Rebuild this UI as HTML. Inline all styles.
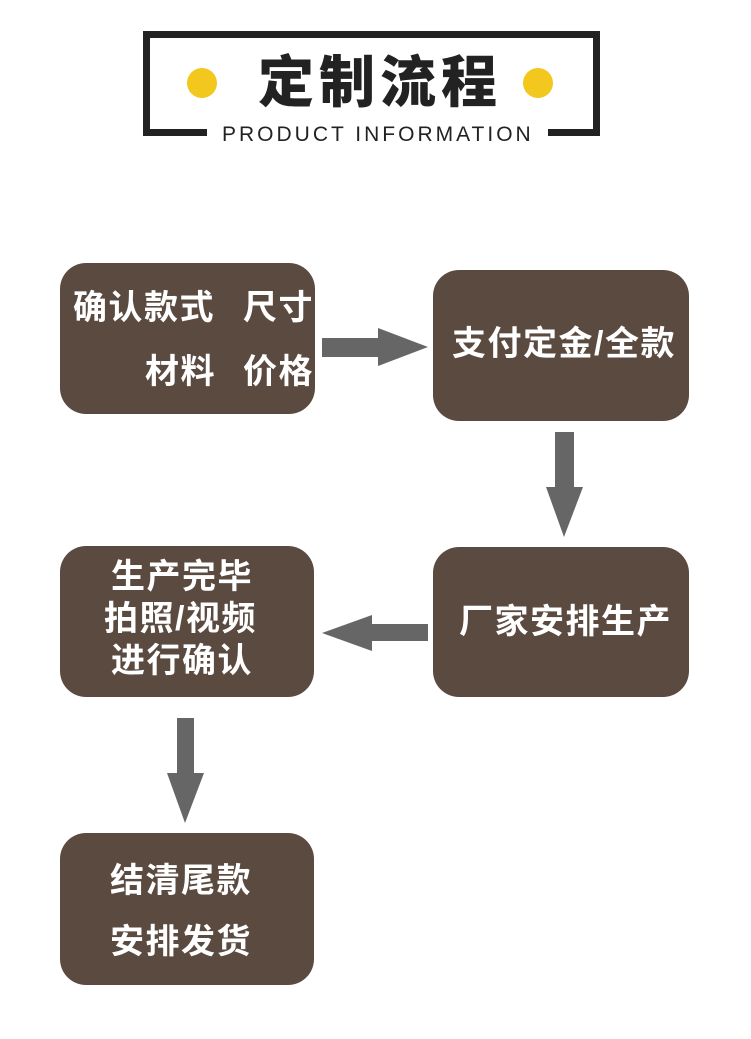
<!DOCTYPE html>
<html><head><meta charset="utf-8"><style>
body{margin:0;width:751px;height:1039px;background:#fff;position:relative;overflow:hidden;font-family:"Liberation Sans","Noto Sans CJK SC",sans-serif}
.b{position:absolute;background:#5b4a40;border-radius:26px}
.t{position:absolute;color:#fff;font-weight:bold;font-size:34px;letter-spacing:1.5px;white-space:nowrap;line-height:1;font-family:"Liberation Sans","Noto Sans CJK SC",sans-serif}
.l{position:absolute;background:#222}
</style></head><body>
<div class="l" style="left:143px;top:31px;width:457px;height:7px"></div>
<div class="l" style="left:143px;top:31px;width:7px;height:105px"></div>
<div class="l" style="left:593px;top:31px;width:7px;height:105px"></div>
<div class="l" style="left:143px;top:129px;width:64px;height:7px"></div>
<div class="l" style="left:548px;top:129px;width:52px;height:7px"></div>
<div style="position:absolute;left:187px;top:68px;width:30px;height:30px;border-radius:50%;background:#f2c81e"></div>
<div style="position:absolute;left:523px;top:68px;width:30px;height:30px;border-radius:50%;background:#f2c81e"></div>
<div class="t" style="left:258px;top:55px;font-size:56px;letter-spacing:5px;color:#222;font-weight:900">定制流程</div>
<div class="t" style="left:222px;top:124px;font-size:21px;color:#222;font-weight:normal;letter-spacing:3px">PRODUCT INFORMATION</div>

<div class="b" style="left:60px;top:263px;width:255px;height:151px"></div>
<div class="t" style="left:73px;top:291px">确认款式</div>
<div class="t" style="left:243px;top:291px">尺寸</div>
<div class="t" style="left:145px;top:355px">材料</div>
<div class="t" style="left:243px;top:355px">价格</div>

<div class="b" style="left:433px;top:270px;width:256px;height:151px"></div>
<div class="t" style="left:452px;top:327px">支付定金/全款</div>

<div class="b" style="left:433px;top:547px;width:256px;height:150px"></div>
<div class="t" style="left:459px;top:605px">厂家安排生产</div>

<div class="b" style="left:60px;top:546px;width:254px;height:151px"></div>
<div class="t" style="left:111px;top:560px">生产完毕</div>
<div class="t" style="left:104px;top:602px">拍照/视频</div>
<div class="t" style="left:111px;top:644px">进行确认</div>

<div class="b" style="left:60px;top:833px;width:254px;height:152px"></div>
<div class="t" style="left:110px;top:864px">结清尾款</div>
<div class="t" style="left:110px;top:925px">安排发货</div>

<svg width="751" height="1039" style="position:absolute;left:0;top:0">
<g fill="#666">
<polygon points="322,338 378,338 378,328 428,347 378,366 378,357 322,357"/>
<polygon points="555,432 574,432 574,487 583,487 564,537 546,487 555,487"/>
<polygon points="428,624 372,624 372,615 322,633 372,651 372,641 428,641"/>
<polygon points="177,718 194,718 194,773 204,773 185,823 167,773 177,773"/>
</g></svg>
</body></html>
